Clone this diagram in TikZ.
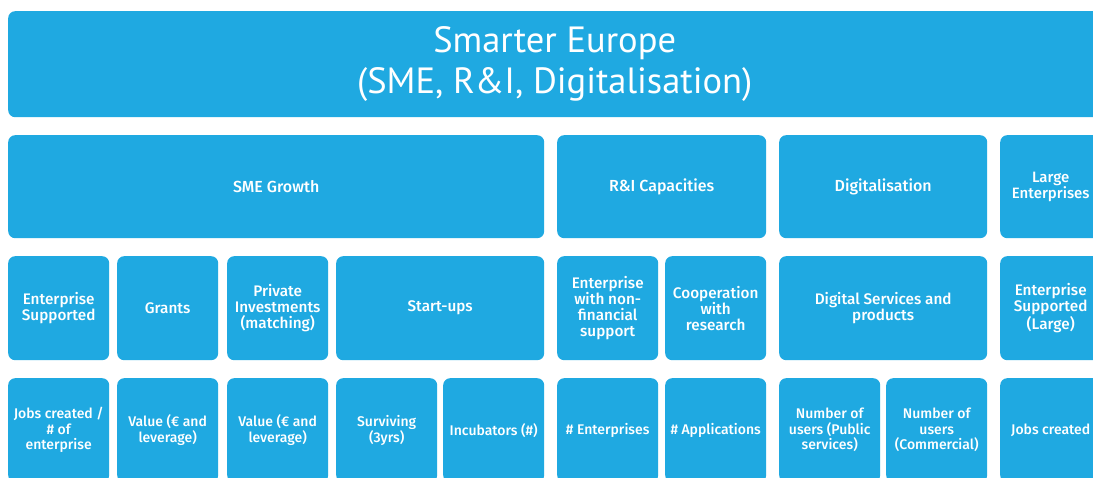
\documentclass[tikz,border=0pt]{standalone}
\usepackage{fontspec}
\setmainfont{PT Sans}
\newfontfamily\cellfont{Fira Sans Medium}
\definecolor{smblue}{RGB}{31,169,225}

\begin{document}
\begin{tikzpicture}[x=1pt, y=-1pt]
  \tikzset{box/.style={rectangle, rounded corners=7pt, fill=smblue, text=white, anchor=north west,
      inner sep=0pt, align=center, font=\cellfont\fontsize{14}{15.5}\selectfont},
    head/.style={box, minimum height=103pt, font=\cellfont\fontsize{16}{16}\selectfont},
    cell/.style={box, minimum width=101pt, minimum height=104pt},
    mcell/.style={cell, font=\cellfont\fontsize{15.3}{16}\selectfont}}

  \clip (0,0) rectangle (1093,477);
  \fill[white] (0,0) rectangle (1093,477);

  % title bar
  \node[box, minimum width=1093pt, minimum height=106pt, font=\fontsize{36.5}{41}\selectfont]
    (smart) at (8,11) {Smarter Europe\\(SME, R\&I, Digitalisation)};

  % themes
  \node[head, minimum width=536pt] (sme) at (8,135)    {SME Growth};
  \node[head, minimum width=209pt] (ri)  at (557,135)  {R\&I Capacities};
  \node[head, minimum width=208pt] (dig) at (779,135)  {Digitalisation};
  \node[head, minimum width=101pt, font=\cellfont\fontsize{15}{16.5}\selectfont] (lrg) at (1000,135) {Large\\Enterprises};

  % measures
  \node[mcell] (esup)   at (8,256)    {Enterprise\\Supported};
  \node[mcell] (grant)  at (117,256)  {Grants};
  \node[mcell] (priv)   at (227,256)  {Private\\Investments\\(matching)};
  \node[mcell, minimum width=208pt] (start) at (336,256) {Start-ups};
  \node[mcell] (nonfin) at (557,256)  {Enterprise\\with non-\\financial\\support};
  \node[mcell] (coop)   at (665,256)  {Cooperation\\with\\research};
  \node[mcell, minimum width=208pt] (dserv) at (779,256) {Digital Services and\\products};
  \node[mcell] (esupl)  at (1000,256) {Enterprise\\Supported\\(Large)};

  % indicators
  \node[cell] (jobs)  at (8,378)    {Jobs created /\\\# of\\enterprise};
  \node[cell] (val1)  at (117,378)  {Value (€ and\\leverage)};
  \node[cell] (val2)  at (227,378)  {Value (€ and\\leverage)};
  \node[cell] (surv)  at (336,378)  {Surviving\\(3yrs)};
  \node[cell] (incub) at (443,378)  {Incubators (\#)};
  \node[cell] (nent)  at (557,378)  {\# Enterprises};
  \node[cell] (napp)  at (665,378)  {\# Applications};
  \node[cell] (npub)  at (779,378)  {Number of\\users (Public\\services)};
  \node[cell] (ncom)  at (886,378)  {Number of\\users\\(Commercial)};
  \node[cell] (jobsl) at (1000,378) {Jobs created};
\end{tikzpicture}
\end{document}
